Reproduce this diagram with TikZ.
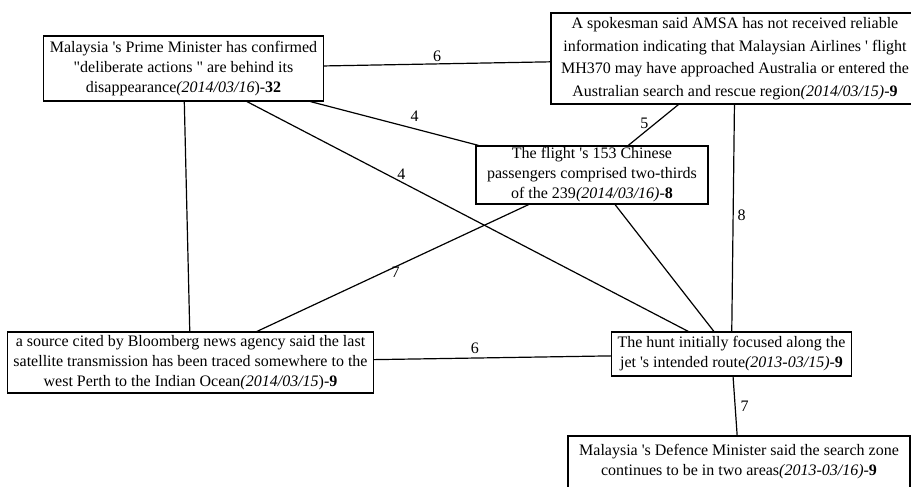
\documentclass[tikz,border=0pt]{standalone}
\usepackage{fontspec}
\setmainfont{Liberation Serif}[Ligatures=TeXOff]
\begin{document}
\begin{tikzpicture}[x=1pt,y=-1pt,
  box/.style={draw, line width=1.2pt, align=center, inner xsep=6pt, inner ysep=0pt,
    font=\fontsize{16}{20}\selectfont},
  link/.style={line width=1.2pt},
  wt/.style={font=\fontsize{16}{18}\selectfont, inner sep=2pt}]

  \useasboundingbox (0,0) rectangle (911,487);

  % Centres of the boxes
  \coordinate (pm) at (183.5,68.5);
  \coordinate (amsa) at (735,58.5);
  \coordinate (chin) at (592,175);
  \coordinate (bloom) at (190.5,362.5);
  \coordinate (hunt) at (731.5,354);
  \coordinate (def) at (739,462);

  % Boxes
  \node[box, minimum width=279pt, minimum height=65pt] (PM) at (pm)
    {Malaysia 's Prime Minister has confirmed\\
     "deliberate actions " are behind its\\
     disappearance\textit{(2014/03/16})-\textbf{32}};
  \node[box, minimum width=368pt, minimum height=91pt,
    font=\fontsize{16}{22.5}\selectfont] (AMSA) at (amsa)
    {A spokesman said AMSA has not received reliable\\
     information indicating that Malaysian Airlines ' flight\\
     MH370 may have approached Australia or entered the\\
     Australian search and rescue region\textit{(2014/03/15)}-\textbf{9}};
  \node[box, minimum width=232pt, minimum height=58pt] (CHIN) at (chin)
    {The flight 's 153 Chinese\\
     passengers comprised two-thirds\\
     of the 239\textit{(2014/03/16)}-\textbf{8}};
  \node[box, minimum width=365pt, minimum height=61pt] (BLOOM) at (bloom)
    {a source cited by Bloomberg news agency said the last\\
     satellite transmission has been traced somewhere to the\\
     west Perth to the Indian Ocean\textit{(2014/03/15})-\textbf{9}};
  \node[box, minimum width=237pt, minimum height=44pt] (HUNT) at (hunt)
    {The hunt initially focused along the\\
     jet 's intended route\textit{(2013-03/15)}-\textbf{9}};
  \node[box, minimum width=342pt, minimum height=52pt] (DEF) at (def)
    {Malaysia 's Defence Minister said the search zone\\
     continues to be in two areas\textit{(2013-03/16)}-\textbf{9}};

  % Connections
  \draw[link] (PM) -- node[wt, above, pos=0.5] {6} (AMSA);
  \draw[link] (PM) -- node[wt, above=5pt, pos=0.62] {4} (CHIN);
  \draw[link] (PM) -- node[wt, above, pos=0.35] {4} (HUNT);
  \draw[link] (PM) -- (BLOOM);
  \draw[link] (AMSA) -- node[wt, left=5pt, pos=0.45] {5} (CHIN);
  \draw[link] (AMSA) -- node[wt, right=2pt, pos=0.49] {8} (HUNT);
  \draw[link] (CHIN) -- (HUNT);
  \draw[link] (CHIN) -- node[wt, yshift=-6pt, pos=0.49] {7} (BLOOM);
  \draw[link] (BLOOM) -- node[wt, above=2pt, pos=0.425] {6} (HUNT);
  \draw[link] (HUNT) -- node[wt, right=3pt] {7} (DEF);

\end{tikzpicture}
\end{document}
